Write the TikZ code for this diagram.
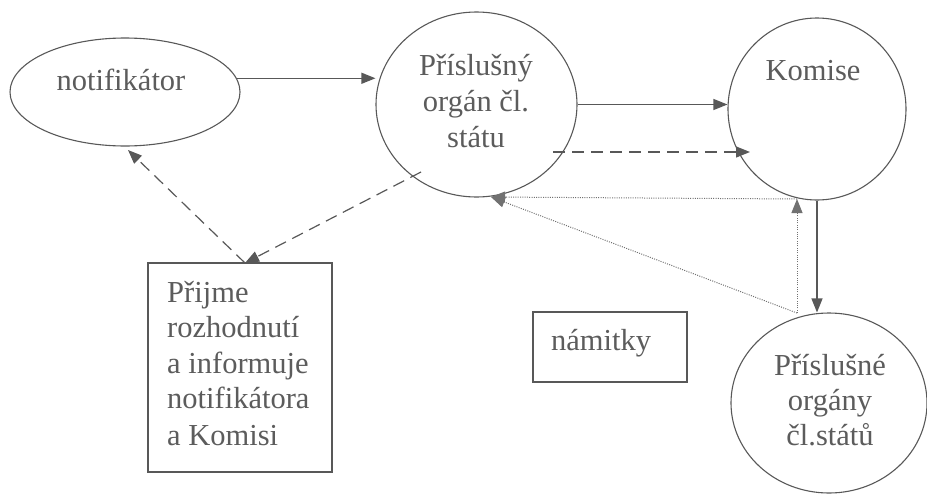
\documentclass[tikz,border=0pt]{standalone}
\usepackage{fontspec}
\setmainfont{Liberation Serif}
\usetikzlibrary{arrows.meta,shapes.geometric,calc}
\definecolor{ink}{RGB}{88,88,88}
\definecolor{txt}{RGB}{92,92,92}
\tikzset{
  outline/.style={draw=ink, line width=1.1pt},
  oval/.style={outline, ellipse, inner sep=0pt},
  panel/.style={outline, rectangle, inner sep=0pt},
  words/.style={text=txt, font={\fontsize{30.5}{36}\selectfont}, inner sep=0pt},
  headtip/.style={-{Triangle[length=14pt,width=11pt]}},
  solidflow/.style={ink, line width=1.2pt, headtip},
  dashflow/.style={ink, line width=1.2pt, dash pattern=on 12pt off 7pt, headtip},
  dotflow/.style={ink!85, line width=1pt, dash pattern=on 1pt off 1.3pt, headtip},
}
\begin{document}
\begin{tikzpicture}[x=1pt,y=-1pt]
\useasboundingbox (0,0) rectangle (927,493);

% shapes
\node[oval, minimum width=230pt, minimum height=108pt] (notif) at (125,92) {};
\node[oval, minimum width=201pt, minimum height=185pt] (organ) at (476.5,104.5) {};
\node[oval, minimum width=178pt, minimum height=182pt] (komise) at (817,109) {};
\node[oval, minimum width=196pt, minimum height=180pt] (organy) at (829,403) {};
\node[panel, minimum width=184pt, minimum height=209pt] (decide) at (240,367.5) {};
\node[panel, minimum width=154pt, minimum height=70pt] (namitky) at (610,347) {};

% texts
\node[words, anchor=base] (tnotif) at (121,90) {notifikátor};
\node[words, anchor=base] (torgan1) at (476,75) {Příslušný};
\node[words, anchor=base] (torgan2) at (476,111) {orgán čl.};
\node[words, anchor=base] (torgan3) at (476,147) {státu};
\node[words, anchor=base] (tkomise) at (813,80) {Komise};
\node[words, anchor=base west] (td1) at (167,302) {Přijme};
\node[words, anchor=base west] (td2) at (167,337) {rozhodnutí};
\node[words, anchor=base west] (td3) at (167,373) {a informuje};
\node[words, anchor=base west] (td4) at (167,408) {notifikátora};
\node[words, anchor=base west] (td5) at (167,445) {a Komisi};
\node[words, anchor=base west] (tnam) at (551,350) {námitky};
\node[words, anchor=base] (torgany1) at (830,375) {Příslušné};
\node[words, anchor=base] (torgany2) at (830,410) {orgány};
\node[words, anchor=base] (torgany3) at (830,445) {čl.států};

% connection points
\coordinate (dstart) at (553,152);
\coordinate (dend) at (750,152);
\coordinate (dleave) at (421,172);
\coordinate (dtop) at (245,263);
\coordinate (nbottom) at (128,150);
\coordinate (qfoot) at (797,313);
\coordinate (qhead) at (797,199);
\coordinate (rtarget) at (491,197);

% solid flows
\draw[solidflow] (notif.7) -- (notif.7 -| organ.west);
\draw[solidflow] (organ.east) -- (organ.east -| komise.west);
\draw[solidflow] (komise.south) -- (komise.south |- organy.north);

% dashed flows
\draw[dashflow] (dstart) -- (dend);
\draw[dashflow] (dleave) -- (dtop);
\draw[dashflow] (dtop) -- (nbottom);

% dotted flows
\draw[dotflow] (qfoot) -- (qhead);
\draw[dotflow] (qhead) -- (rtarget);
\draw[dotflow] (qfoot) -- (rtarget);
\end{tikzpicture}
\end{document}
